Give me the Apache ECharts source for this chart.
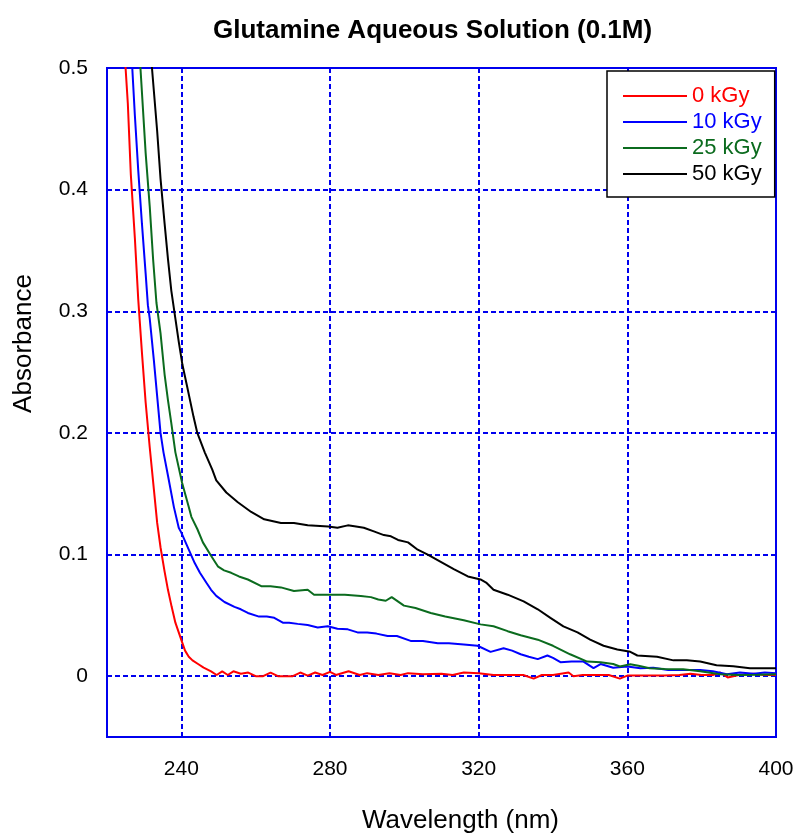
<!DOCTYPE html>
<html>
<head>
<meta charset="utf-8">
<script src="https://cdn.jsdelivr.net/npm/echarts@6/dist/echarts.min.js"></script>
<style>html,body{margin:0;padding:0;background:#fff;}#c{width:797px;height:839px;}</style>
</head>
<body>
<div id="c"></div>
<script>
// ---- data ----
const seriesNames = ['0 kGy', '10 kGy', '25 kGy', '50 kGy'];
const xTicks = [240, 280, 320, 360, 400];
const yTicks = [0, 0.1, 0.2, 0.3, 0.4, 0.5];

const wl0 = [224.4,225,225.6,226.4,227.5,228.4,229.4,230.4,231.5,232.6,233.5,234.4,235.5,236.4,237.4,238.4,239.3,240.2,241,242,243,244.5,246,248,249.5,251,252.5,254,256,258,260,262,264,266,268,270,272,274,276,278,280,281.6,285,288,290,293,296,299,301,305,310,313,316,320,324,328,332,334.8,337,340,344.2,345.5,348,352,355,358,360,365,370,374,377,380,383,385,387,390,394,397,400];
const abs0 = [0.55,0.5,0.471,0.413,0.36,0.31,0.266,0.225,0.188,0.154,0.126,0.106,0.086,0.071,0.057,0.044,0.036,0.028,0.021,0.016,0.013,0.01,0.007,0.004,0.001,0.004,0.001,0.004,0.002,0.003,0,0,0.003,0,0,0,0.003,0.0005,0.003,0.001,0.0035,0.001,0.004,0.001,0.0025,0.001,0.0025,0.001,0.0025,0.0015,0.002,0.001,0.003,0.0025,0.001,0.001,0.001,-0.002,0.001,0.001,0.003,0,0.001,0.001,0.001,-0.002,0.0005,0.0005,0.0005,0.001,0.002,0.001,0.001,0.003,-0.001,0.001,0.002,0.001,0.001];

const wl1 = [226.2,226.8,227.5,228.4,229.4,230.4,231,231.5,232.6,233.5,234.4,235.2,236.4,238,239.3,240,241,242,243.6,245,246.7,248,249.4,251.6,254.3,256,257.9,260.9,263,265,267.3,269,271.3,274,276.7,279.4,282,284.8,287.4,290,292.5,295.5,298,301.7,305,309,312,316,319.7,323.2,326.7,329,331.3,333.5,335.9,338.5,340,342,345,348.2,350.9,352.8,356.2,360,363.5,367,371,375,379.6,383,386.8,390.3,394,397,400];
const abs1 = [0.55,0.5,0.461,0.416,0.372,0.331,0.305,0.294,0.26,0.23,0.2,0.184,0.165,0.139,0.122,0.118,0.111,0.104,0.093,0.085,0.077,0.071,0.066,0.061,0.057,0.055,0.052,0.049,0.049,0.048,0.044,0.044,0.043,0.042,0.040,0.041,0.039,0.0385,0.036,0.036,0.035,0.033,0.033,0.029,0.029,0.027,0.027,0.026,0.025,0.02,0.023,0.021,0.018,0.016,0.014,0.017,0.015,0.0115,0.012,0.012,0.0066,0.01,0.007,0.008,0.0066,0.007,0.005,0.005,0.005,0.004,0.0016,0.003,0.002,0.003,0.0025];

const wl2 = [228.6,229.0,230.4,231.5,232.4,233.3,234.4,235.5,236.4,237.3,238.4,240.2,242,242.7,244.3,245.8,248,249.9,251.5,253.4,255.5,257.9,261.5,264,266.8,270.3,274,275.7,280,284,288.3,291,293,295,296.6,299.9,303,307.1,311,316,320.5,324,327.8,331.3,335.9,340,344.6,349.2,352.8,356.2,358,360.8,363,366,370,375,379.6,385,390,395,400];
const abs2 = [0.55,0.5,0.43,0.386,0.343,0.307,0.282,0.248,0.227,0.208,0.184,0.159,0.139,0.131,0.121,0.11,0.099,0.09,0.087,0.085,0.082,0.0795,0.074,0.074,0.073,0.07,0.071,0.067,0.067,0.067,0.066,0.065,0.063,0.062,0.065,0.058,0.056,0.052,0.049,0.046,0.0426,0.041,0.037,0.0336,0.03,0.025,0.018,0.012,0.0115,0.01,0.008,0.0098,0.0085,0.0066,0.006,0.0057,0.004,0.0016,0.001,0.0012,0.0016];

const wl3 = [231.4,232.1,233.5,234.4,235.5,236.4,237.3,238.4,239.3,240.3,241.5,243.3,244.3,246.3,248.3,249.4,252.1,255.2,258.8,262.3,266.8,270.3,274,279.5,282,284.8,287,289.1,291.8,294.5,296.4,298.3,301,303.6,306.3,309.8,313.3,317.1,320.5,322,324,327.8,332.1,335.9,339.3,342.8,346.6,350,353.6,357.3,360.8,362.7,368,372.4,376,379.6,384,388.5,393,396,400];
const abs3 = [0.55,0.5,0.448,0.409,0.372,0.343,0.317,0.294,0.275,0.256,0.239,0.213,0.2,0.184,0.17,0.161,0.151,0.143,0.135,0.129,0.126,0.126,0.124,0.123,0.122,0.124,0.123,0.122,0.119,0.116,0.115,0.112,0.11,0.104,0.1,0.094,0.088,0.082,0.0795,0.077,0.071,0.067,0.0615,0.055,0.048,0.041,0.036,0.03,0.025,0.022,0.02,0.017,0.016,0.013,0.013,0.012,0.009,0.0082,0.0066,0.0066,0.0066];

// ---- build ----
const colors = ['#ff0000', '#0000ff', '#0b6b1e', '#000000'];
const pair = (w, a) => w.map((x, i) => [x, a[i]]);
const datasets = [pair(wl0, abs0), pair(wl1, abs1), pair(wl2, abs2), pair(wl3, abs3)];
const AX = '#0000ee';
const FONT = 'Liberation Sans, Arial, sans-serif';

const chart = echarts.init(document.getElementById('c'), null, { renderer: 'canvas' });
chart.setOption({
  animation: false,
  backgroundColor: '#ffffff',
  title: {
    text: 'Glutamine Aqueous Solution (0.1M)',
    left: 208, top: 13,
    textStyle: { fontFamily: FONT, fontSize: 26, fontWeight: 'bold', color: '#000' }
  },
  legend: {
    show: true,
    orient: 'vertical',
    left: 607, top: 71,
    padding: [14, 13, 12, 16],
    itemGap: 4,
    icon: 'rect',
    itemWidth: 64, itemHeight: 2,
    itemTextGap: 7,
    borderColor: '#000', borderWidth: 1.5,
    backgroundColor: '#fff',
    textStyle: { fontFamily: FONT, fontSize: 22, lineHeight: 22 },
    data: seriesNames.map((n, i) => ({ name: n, textStyle: { color: colors[i] } }))
  },
  grid: {
    left: 107, right: 21, top: 68, bottom: 101,
    show: true, borderColor: AX, borderWidth: 2, backgroundColor: 'transparent'
  },
  xAxis: {
    type: 'value', min: 220, max: 400,
    name: 'Wavelength (nm)', nameLocation: 'middle', nameGap: 71,
    nameTextStyle: { fontFamily: FONT, fontSize: 26, color: '#000', padding: [0, 0, 0, 38] },
    axisLine: { onZero: false, lineStyle: { color: AX, width: 2 } },
    axisTick: { inside: true, length: 5, lineStyle: { color: AX, width: 2 }, customValues: xTicks },
    axisLabel: { customValues: xTicks, fontFamily: FONT, fontSize: 21, color: '#000', margin: 22 },
    splitLine: { show: true, lineStyle: { color: AX, width: 2, type: [5, 3] } }
  },
  yAxis: {
    type: 'value', min: -0.05, max: 0.5,
    name: 'Absorbance', nameLocation: 'middle', nameGap: 70, nameRotate: 90,
    nameTextStyle: { fontFamily: FONT, fontSize: 26, color: '#000', padding: [0, 0, 0, 118] },
    axisLine: { onZero: false, lineStyle: { color: AX, width: 2 } },
    axisTick: { inside: true, length: 5, lineStyle: { color: AX, width: 2 }, customValues: yTicks },
    axisLabel: { customValues: yTicks, fontFamily: FONT, fontSize: 21, color: '#000', margin: 19,
      formatter: v => String(Math.round(v * 10) / 10) },
    splitLine: { show: true, lineStyle: { color: AX, width: 2, type: [5, 3] } }
  },
  series: seriesNames.map((n, i) => ({
    name: n, type: 'line', data: datasets[i],
    symbol: 'none', clip: true,
    lineStyle: { color: colors[i], width: 2 },
    itemStyle: { color: colors[i] }
  }))
});
</script>
</body>
</html>
